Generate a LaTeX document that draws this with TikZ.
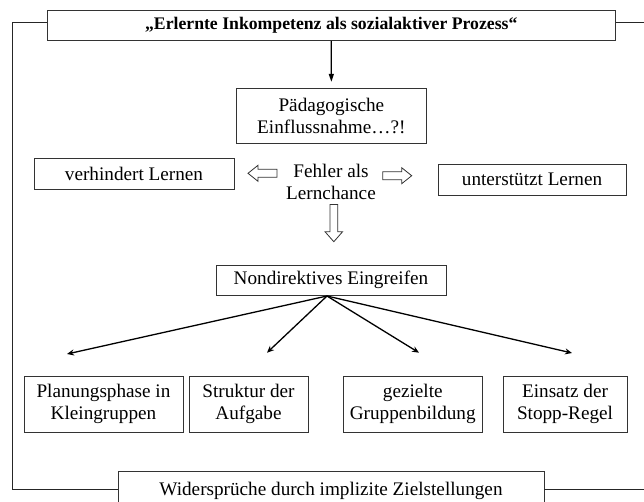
\documentclass[tikz,border=0pt]{standalone}
\usepackage{fontspec}
\setmainfont{Liberation Serif}
\usetikzlibrary{arrows.meta}
\begin{document}
\begin{tikzpicture}[x=1pt,y=-1pt,
  box/.style={draw=black!80, line width=0.9pt, inner sep=0pt, align=center,
    font=\fontsize{19.2}{22}\selectfont},
  frameline/.style={draw=black!85, line width=0.9pt},
  hollow/.style={draw=black!80, line width=0.8pt, fill=white, line join=miter},
  branch/.style={draw=black, line width=1.3pt, -{Stealth[length=7pt,width=6pt]}},
  downarrow/.style={draw=black, line width=1.3pt, -{Triangle[length=8pt,width=5pt]}}]

\useasboundingbox (0,0) rectangle (644,501);
\clip (0,0) rectangle (644,501);

% boxes
\node[box, font=\fontsize{17.7}{20}\selectfont\bfseries, minimum width=568.5pt, minimum height=29.6pt]
  (title) at (331.25,25.5) {„Erlernte Inkompetenz als sozialaktiver Prozess“};
\node[box, minimum width=189.3pt, minimum height=55pt] (paed) at (331.35,115.8)
  {Pädagogische\\Einflussnahme…?!};
\node[box, minimum width=200pt, minimum height=31pt] (verh) at (134,173.5) {verhindert Lernen};
\node[box, minimum width=188pt, minimum height=31pt] (unter) at (532,179.5) {unterstützt Lernen};
\node[align=center, inner sep=0pt, font=\fontsize{19.2}{22}\selectfont] (fehler) at (331,181.5)
  {Fehler als\\Lernchance};
\node[box, minimum width=230pt, minimum height=30.5pt] (nd) at (331,280.25) {Nondirektives Eingreifen};
\node[box, minimum width=159pt, minimum height=56pt] (b1) at (103.5,404) {Planungsphase in\\Kleingruppen};
\node[box, minimum width=119pt, minimum height=56pt] (b2) at (248.5,404) {Struktur der\\Aufgabe};
\node[box, minimum width=139.5pt, minimum height=56pt] (b3) at (412.75,404) {gezielte\\Gruppenbildung};
\node[box, minimum width=124pt, minimum height=56pt] (b4) at (565,404) {Einsatz der\\Stopp-Regel};
\node[box, minimum width=426pt, minimum height=39pt] (wid) at (331,490.5)
  {Widersprüche durch implizite Zielstellungen};

% hollow block arrows (drawn as outlines)
\draw[hollow] (248,173.3) -- (258,165.3) -- (258,169.3) -- (277,169.3) -- (277,177.3)
  -- (258,177.3) -- (258,181.3) -- cycle;
\draw[hollow] (411.7,175.7) -- (401.7,167.7) -- (401.7,171.7) -- (382.7,171.7) -- (382.7,179.7)
  -- (401.7,179.7) -- (401.7,183.7) -- cycle;
\draw[hollow] (333.8,241.7) -- (325,231.7) -- (329.9,231.7) -- (329.9,204.5) -- (337.7,204.5)
  -- (337.7,231.7) -- (342.6,231.7) -- cycle;

% outer frame
\coordinate (ftl) at (12.5,22.7);
\coordinate (fbl) at (12.5,489);
\coordinate (ftr) at (644,22.7);
\coordinate (fbr) at (644,489);
\draw[frameline] (title.west |- ftl) -- (ftl) -- (fbl) -- (wid.west |- fbl);
\draw[frameline] (title.east |- ftr) -- (ftr);
\draw[frameline] (wid.east |- fbr) -- (fbr);

% arrow title -> paed
\draw[downarrow] (title.south) -- ([yshift=6pt]paed.north);

% branches
\coordinate (hub) at (327,296);
\coordinate (e1) at (67,354);
\coordinate (e2) at (267,352.7);
\coordinate (e3) at (419,352.7);
\coordinate (e4) at (572,353);
\draw[branch] (hub) -- (e1);
\draw[branch] (hub) -- (e2);
\draw[branch] (hub) -- (e3);
\draw[branch] (hub) -- (e4);
\end{tikzpicture}
\end{document}
